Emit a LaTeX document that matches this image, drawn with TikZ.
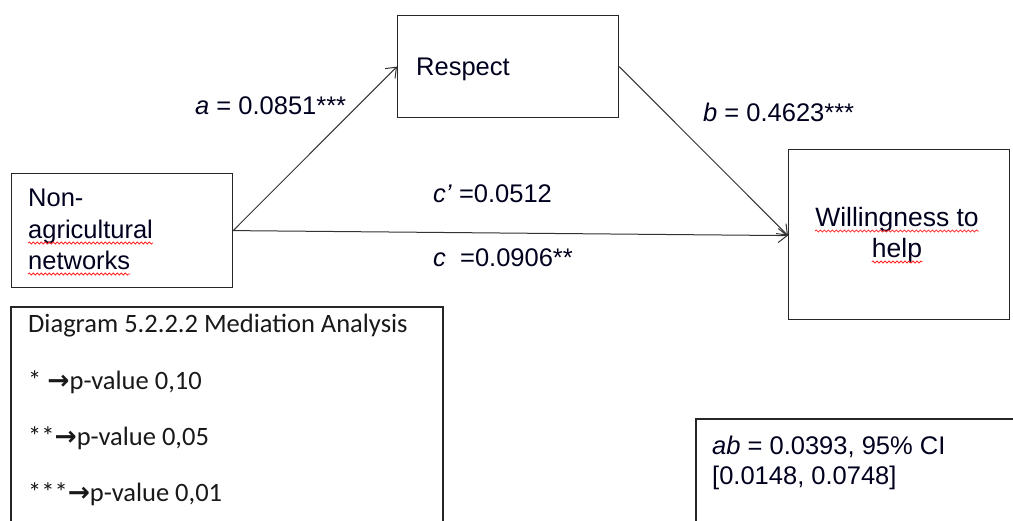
\documentclass[tikz,border=0pt]{standalone}
\usepackage{fontspec}
\setmainfont{Liberation Sans}
\newfontfamily\legendfont{Carlito}
\newfontfamily\symfont{DejaVu Sans}
\usetikzlibrary{arrows.meta,decorations.pathmorphing}
\begin{document}
\begin{tikzpicture}[x=1pt,y=-1pt,
  box/.style={draw=black!85,line width=1.2pt,inner sep=0pt,anchor=north west},
  lbl/.style={anchor=base west,inner sep=0pt,font=\fontsize{25.5}{30}\selectfont,text=black!88!blue},
  legend/.style={anchor=base west,inner sep=0pt,font=\legendfont\fontsize{26.5}{30}\selectfont,text=black!90},
  path/.style={draw=black!80,line width=1pt,-{Straight Barb[length=9pt,width=14pt,line width=1pt]}},
  squiggle/.style={draw=red!85,line width=0.8pt,decorate,decoration={snake,segment length=4pt,amplitude=1pt}}]
\useasboundingbox (0,0) rectangle (1013,521);
\fill[white] (0,0) rectangle (1013,521);

% variable boxes
\node[box,minimum width=221pt,minimum height=114pt] (nag) at (11,173) {};
\node[box,minimum width=221pt,minimum height=102pt] (res) at (397,15) {};
\node[box,minimum width=221pt,minimum height=170pt] (wil) at (788,149) {};

% box texts
\node[lbl] (t1) at (28,207) {Non-};
\node[lbl] (t2) at (28,239) {agricultural};
\node[lbl] (t3) at (28,270) {networks};
\node[lbl] (t4) at (416,76) {Respect};
\node[lbl,anchor=base,font=\fontsize{26.5}{30}\selectfont] (t5) at (897,227) {Willingness to};
\node[lbl,anchor=base,font=\fontsize{26.5}{30}\selectfont] (t6) at (897,258) {help};

% spelling marks
\draw[squiggle] ([yshift=-4pt]t2.base west) -- ([yshift=-4pt]t2.base east);
\draw[squiggle] ([yshift=-4pt]t3.base west) -- ([yshift=-4pt]t3.base east);
\draw[squiggle] ([yshift=-4pt]t5.base west) -- ([yshift=-4pt]t5.base east);
\draw[squiggle] ([yshift=-4pt]t6.base west) -- ([yshift=-4pt]t6.base east);

% paths
\draw[path] (nag.east) -- (res.west);
\draw[path] (res.east) -- ([yshift=-1pt]wil.west);
\draw[path] (nag.east) -- ([yshift=-1pt]wil.west);

% coefficients
\node[lbl] (la) at (195,115) {\textit{a} = 0.0851***};
\node[lbl] (lb) at (703,122) {\textit{b} = 0.4623***};
\node[lbl] (lcp) at (433,203) {\textit{c'} =0.0512};
\node[lbl] (lc) at (433,267) {\textit{c}\ \ =0.0906**};

% legend (runs past the lower edge)
\coordinate (lg1) at (11,530);
\coordinate (lg2) at (11,307);
\coordinate (lg3) at (443,307);
\coordinate (lg4) at (443,530);
\draw[draw=black!85,line width=1.2pt] (lg1) -- (lg2) -- (lg3) -- (lg4);
\node[legend] (g1) at (28,333) {Diagram 5.2.2.2 Mediation Analysis};
\node[legend] (g2) at (28,390) {* {\symfont\bfseries→}p-value 0,10};
\node[legend] (g3) at (28,446) {**{\symfont\bfseries→}p-value 0,05};
\node[legend] (g4) at (28,501) {***{\symfont\bfseries→}p-value 0,01};

% indirect effect box (runs past the right and lower edges)
\coordinate (ab1) at (696,530);
\coordinate (ab2) at (696,419);
\coordinate (ab3) at (1020,419);
\draw[draw=black!85,line width=1.2pt] (ab1) -- (ab2) -- (ab3);
\node[lbl] (ab) at (712,455) {\textit{ab} = 0.0393, 95\% CI};
\node[lbl] (abci) at (712,485) {[0.0148, 0.0748]};
\end{tikzpicture}
\end{document}
